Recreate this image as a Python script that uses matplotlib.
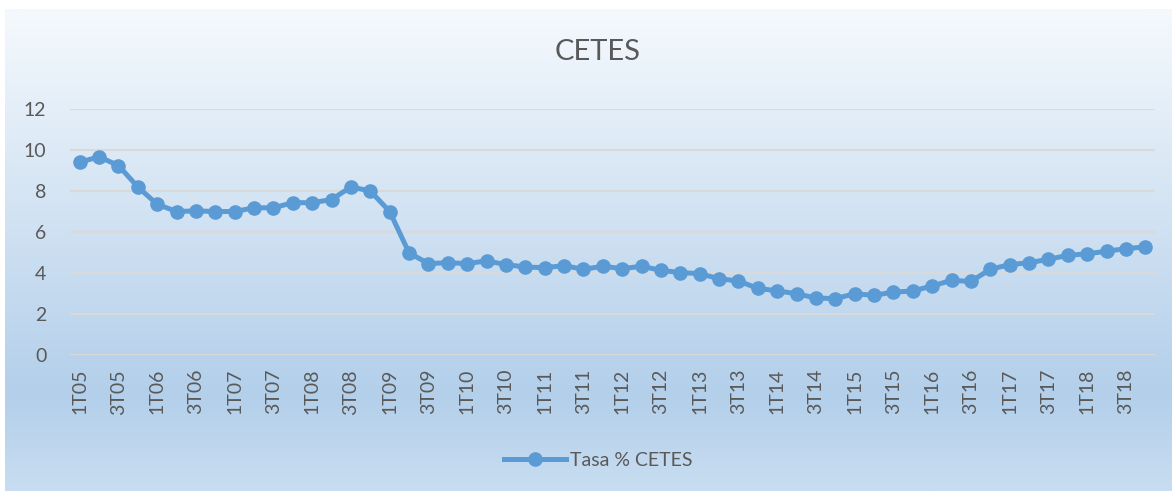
import numpy as np
import matplotlib.pyplot as plt
from matplotlib.colors import LinearSegmentedColormap

# Tasa % CETES trimestral, 1T05 - 4T18
years = list(range(5, 19))
quarters = ['%dT%02d' % (q, y) for y in years for q in range(1, 5)]
cetes = [9.40, 9.67, 9.24, 8.20, 7.35, 7.00, 7.03, 7.00, 7.00, 7.18,
         7.18, 7.43, 7.43, 7.58, 8.20, 8.00, 7.00, 4.98, 4.46, 4.50,
         4.46, 4.59, 4.41, 4.29, 4.26, 4.36, 4.18, 4.33, 4.21, 4.33,
         4.13, 4.02, 3.97, 3.72, 3.61, 3.25, 3.13, 2.99, 2.78, 2.75,
         2.99, 2.91, 3.07, 3.12, 3.37, 3.64, 3.59, 4.18, 4.41, 4.50,
         4.67, 4.86, 4.94, 5.06, 5.19, 5.27]

plt.rcParams['font.family'] = ['Lato', 'DejaVu Sans']
W, H = 1172, 491
fig = plt.figure(figsize=(W / 100, H / 100), dpi=100)
fig.patch.set_facecolor('white')

# background gradient (light at top, darkest blue near the bottom)
bg = fig.add_axes([5 / W, 0, 1 - 5 / W, 1 - 9 / H], zorder=-1)
cmap = LinearSegmentedColormap.from_list('bg', [(0, '#f5f9fd'), (0.80, '#b3cfea'),
                                                 (1, '#c8ddf1')])
grad = np.linspace(0, 1, 256).reshape(-1, 1)
bg.imshow(grad, aspect='auto', cmap=cmap, extent=[0, 1, 1, 0])
bg.set_axis_off()

ax = fig.add_axes([70 / W, (H - 355) / H, (1155 - 70) / W, (355 - 109) / H])
ax.set_facecolor('none')
x = np.arange(len(quarters))
ax.plot(x, cetes, color='#5b9bd5', lw=3.6, marker='o', ms=9.5,
        label='Tasa % CETES', zorder=3)

ax.set_ylim(0, 12)
ax.set_yticks(range(0, 13, 2))
ax.set_xlim(-0.5, len(quarters) - 0.5)
ax.set_xticks(x[::2])
ax.set_xticklabels(quarters[::2], rotation=90)
ax.tick_params(length=0, labelsize=14, colors='#595959')
ax.tick_params(axis='y', pad=17)
ax.tick_params(axis='x', pad=10)
ax.grid(axis='y', color='#d9d9d9', lw=1.5)
ax.set_axisbelow(True)
for s in ax.spines.values():
    s.set_visible(False)

fig.text(598 / W, 1 - 52 / H, 'CETES', ha='center', va='center',
         fontsize=21, color='#595959')
fig.legend(loc='center', bbox_to_anchor=(598 / W, 1 - 460 / H), frameon=False,
           fontsize=14, labelcolor='#595959', handlelength=3.2, handletextpad=0.2)

fig.savefig('out.png', dpi=100)
